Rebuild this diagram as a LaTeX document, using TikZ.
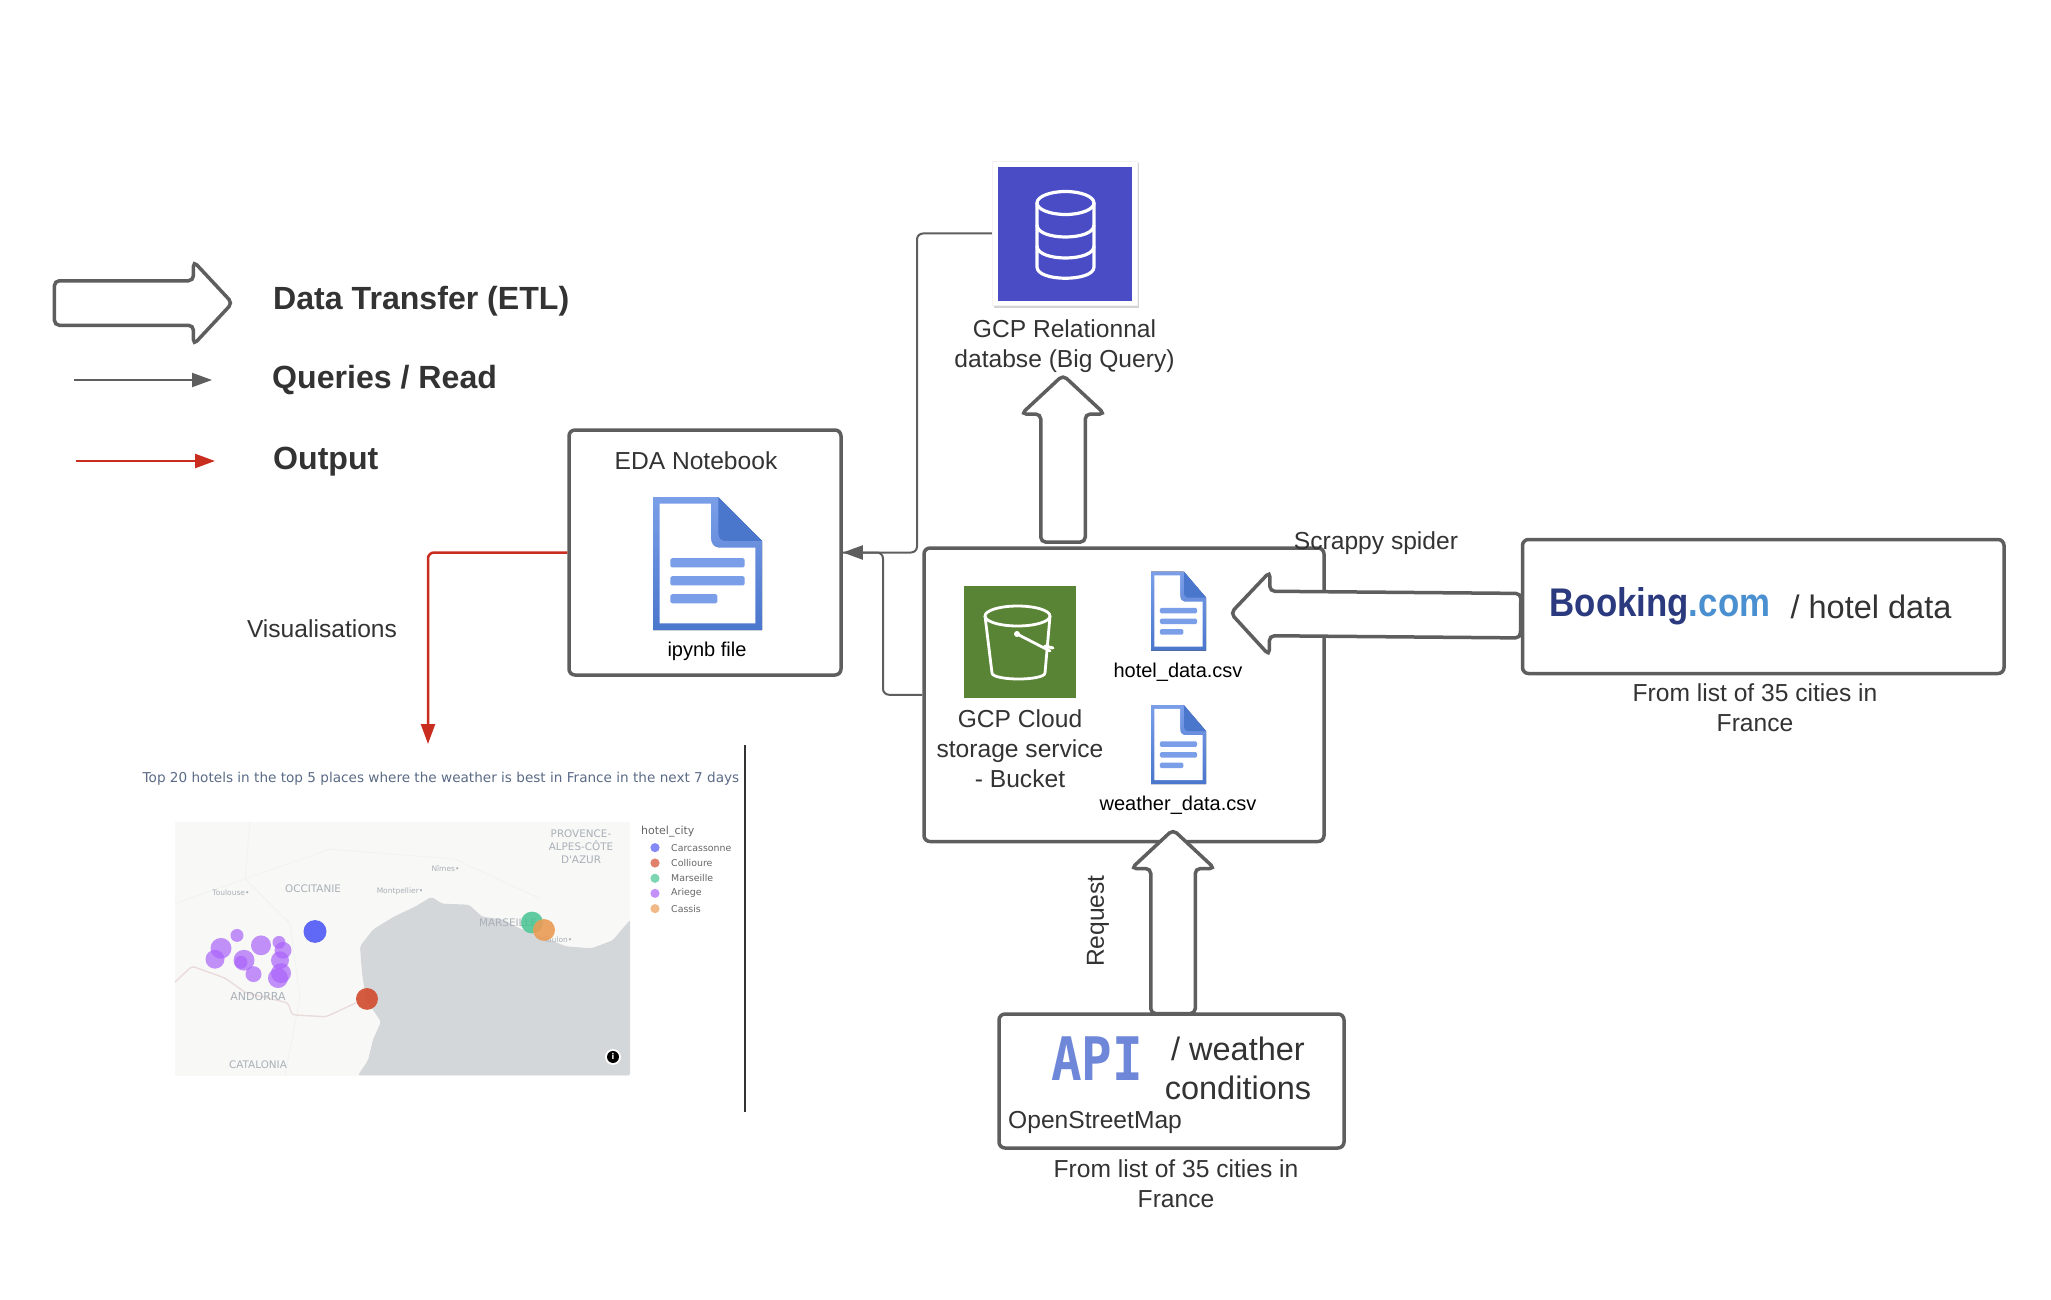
\documentclass[tikz,border=0pt]{standalone}
\usepackage{xcolor}
\usepackage{fontspec}
\setmainfont{Liberation Sans}
\newfontfamily\mapfont{DejaVu Sans}
\newfontfamily\apifont{DejaVu Sans Mono}
\usepackage{tikz}
\usetikzlibrary{shapes.arrows, arrows.meta, positioning, calc, shadows}

\definecolor{linegray}{HTML}{5E5E5E}
\definecolor{inkgray}{HTML}{333333}
\definecolor{outred}{HTML}{C92D1F}
\definecolor{dbblue}{HTML}{4A4CC5}
\definecolor{bucketgreen}{HTML}{5A8435}
\definecolor{foldblue}{HTML}{4A76CC}
\definecolor{baseblue}{HTML}{7B9EE8}
\definecolor{apiblue}{HTML}{6F87D8}
\definecolor{bookingnavy}{HTML}{2B3A7E}
\definecolor{bookingsky}{HTML}{4A90D0}
\definecolor{seagray}{HTML}{D4D7DA}
\definecolor{landgray}{HTML}{F8F8F6}
\definecolor{maptext}{HTML}{A9B0B8}
\definecolor{titleslate}{HTML}{5A6A85}
\definecolor{citypurple}{HTML}{AB63FA}
\definecolor{cityblue}{HTML}{505AF5}
\definecolor{cityred}{HTML}{D24B2D}
\definecolor{citygreen}{HTML}{46C391}
\definecolor{cityorange}{HTML}{EB9B55}
\definecolor{borderpink}{HTML}{EBDCDC}

\newcommand{\sz}[1]{\fontsize{#1}{#1}\selectfont}

\tikzset{
    docfile/.pic={
        \fill[top color=baseblue, bottom color=foldblue] (0,0) -- (59,0) -- (100,33) -- (100,100) -- (0,100) -- cycle;
        \fill[white] (6,5) -- (53,5) -- (53,30) .. controls (53,35) and (56,38) .. (60,38) -- (94,38) -- (94,95) -- (6,95) -- cycle;
        \fill[foldblue] (60,0) -- (100,33) -- (66,33) .. controls (62,33) and (60,30) .. (60,27) -- cycle;
        \fill[baseblue, rounded corners=1.5pt] (16,46) rectangle (84,53);
        \fill[baseblue, rounded corners=1.5pt] (16,59.5) rectangle (84,66.5);
        \fill[baseblue, rounded corners=1.5pt] (16,73) rectangle (59,80);
    }
}

\begin{document}
\begin{tikzpicture}[
    x=1pt, y=-1pt,
    box/.style={draw=linegray, line width=3.5pt, rounded corners=6pt, fill=white, inner sep=0pt},
    bigarrow/.style={draw=linegray, line width=3.5pt, fill=white, rounded corners=5pt, single arrow, single arrow tip angle=94, inner sep=0pt, text height=41pt, text depth=0pt, single arrow head extend=19.5pt},
    readline/.style={draw=linegray, line width=2pt, rounded corners=6pt},
    outline/.style={draw=outred, line width=2.5pt, rounded corners=6pt},
    readtip/.style={-{Triangle[length=20pt,width=14pt]}},
    lbl/.style={text=inkgray, align=center, inner sep=0pt, font=\sz{24.6}, execute at begin node={\baselineskip=30pt}},
    legendlbl/.style={text=inkgray, anchor=west, inner sep=0pt, font=\sz{32.1}\bfseries},
    csvlbl/.style={text=black, inner sep=0pt, font=\sz{20}},
    maplbl/.style={text=maptext, inner sep=0pt, align=center, font=\mapfont\sz{10.4}, execute at begin node={\baselineskip=13pt}},
    citylbl/.style={text=inkgray!75, anchor=west, inner sep=0pt, font=\mapfont\sz{9.4}},
    hotel/.style={fill=#1, fill opacity=0.7, draw=none},
    legenddot/.style={fill=#1, fill opacity=0.7, draw=none}
]
    \useasboundingbox (0,0) rectangle (2051,1300);

    % legend
    \node[bigarrow, minimum height=178pt] (etlkey) at (133,303) {};
    \node[legendlbl] (etlkeytxt) at (273,301.5) {Data Transfer (ETL)};
    \coordinate (readstart) at (74,380);
    \coordinate (readend) at (212,380);
    \draw[readline, readtip] (readstart) -- (readend);
    \node[legendlbl] (readkeytxt) at (272,380.5) {Queries / Read};
    \coordinate (outstart) at (76,461);
    \coordinate (outend) at (215,461);
    \draw[outline, -{Triangle[length=20pt,width=14pt]}, outred] (outstart) -- (outend);
    \node[legendlbl] (outkeytxt) at (273,461.5) {Output};

    % notebook
    \node[box, minimum width=272pt, minimum height=245pt] (edabox) at (705,552.5) {};
    \node[lbl] (edatxt) at (696,461) {EDA Notebook};
    \pic[xscale=1.09, yscale=1.33] at (653,497) {docfile};
    \node[csvlbl] (ipynbtxt) at (707,651) {ipynb file};

    % bucket
    \node[box, minimum width=400pt, minimum height=293.5pt] (bucketbox) at (1124,694.75) {};
    \node[fill=bucketgreen, minimum width=112pt, minimum height=112pt, inner sep=0pt] (bucketicon) at (1020,642) {};
    \draw[white, line width=2.8pt] (985,616) -- (992,673) .. controls (993,681) and (1044,681) .. (1045,673) -- (1050,616);
    \draw[white, line width=2.8pt] (1017.5,616) ellipse [x radius=32.5, y radius=10];
    \draw[white, line width=2.8pt, line cap=round] (1017,634) -- (1050,651);
    \fill[white] (1017,634) circle (3);
    \draw[white, line width=3pt, line cap=round] (1045,646) -- (1053,648);
    \node[lbl] (buckettxt) at (1020,749) {GCP Cloud\\storage service\\- Bucket};
    \pic[xscale=0.55, yscale=0.79] at (1151,571.5) {docfile};
    \pic[xscale=0.55, yscale=0.79] at (1151,705) {docfile};
    \node[csvlbl] (hoteltxt) at (1178,672) {hotel\_data.csv};
    \node[csvlbl] (weathertxt) at (1178,805) {weather\_data.csv};

    % database
    \node[fill=white, draw=black!5, line width=0.5pt, drop shadow={opacity=0.35, shadow xshift=1.5pt, shadow yshift=-2pt}, minimum width=145pt, minimum height=144pt, inner sep=0pt] (dbicon) at (1064.5,233.5) {};
    \fill[dbblue] (998,167) rectangle (1132,301);
    \draw[white, line width=3.2pt] (1065.5,203) ellipse [x radius=28.5, y radius=11.5];
    \draw[white, line width=3.2pt] (1037,203) -- (1037,267) .. controls (1037,282) and (1094,282) .. (1094,267) -- (1094,203);
    \draw[white, line width=3.2pt] (1037,225) .. controls (1037,241) and (1094,241) .. (1094,225);
    \draw[white, line width=3.2pt] (1037,246) .. controls (1037,262) and (1094,262) .. (1094,246);
    \node[lbl] (dbtxt) at (1064.5,346) {GCP Relationnal\\databse (Big Query)};

    % sources
    \node[box, minimum width=481.5pt, minimum height=134pt] (bookingbox) at (1763.25,606.5) {};
    \node[inner sep=0pt, font=\sz{40}\bfseries, xscale=0.87] (bookinglogo) at (1660,606) {\textcolor{bookingnavy}{Booking}\textcolor{bookingsky}{.com}};
    \node[text=inkgray, inner sep=0pt, font=\sz{32.5}] (hoteldatatxt) at (1871,607) {/ hotel data};
    \node[lbl] (bookingnote) at (1755,708) {From list of 35 cities in\\France};
    \node[box, minimum width=345pt, minimum height=134pt] (apibox) at (1171.5,1081) {};
    \node[text=apiblue, inner sep=0pt, font=\apifont\sz{48}\bfseries, xscale=1.06, yscale=1.25] (apilogo) at (1097,1059) {API};
    \node[text=inkgray, inner sep=0pt, align=center, font=\sz{32.5}, execute at begin node={\baselineskip=39pt}] (apitxt) at (1238,1068) {/ weather\\conditions};
    \node[lbl, anchor=west] (osmtxt) at (1008,1122) {OpenStreetMap};
    \node[lbl] (apinote) at (1176,1184) {From list of 35 cities in\\France};

    % block arrows
    \node[bigarrow, minimum height=167pt, rotate=90] (loadarrow) at (1063,469) {};
    \node[bigarrow, minimum height=184pt, rotate=90] (requestarrow) at (1173,932) {};
    \node[bigarrow, minimum height=290pt, rotate=179.5] (scrapearrow) at (1386,614.5) {};
    \node[lbl] (scrapetxt) at (1376,543) {Scrappy spider};
    \node[lbl, rotate=90] (requesttxt) at (1098,921) {Request};

    % queries and output
    \coordinate (dbturn) at (917,400);
    \coordinate (bucketturn) at (883,620);
    \draw[readline] (bucketbox.west) -| (bucketturn) |- (edabox.east);
    \draw[readline, readtip] (dbicon.west) -| (dbturn) |- (edabox.east);
    \coordinate (vistip) at (428,744);
    \draw[outline, -{Triangle[length=20pt,width=14pt]}, outred] (edabox.west) -| (vistip);
    \node[lbl] (vistxt) at (322,629) {Visualisations};

    % plot
    \node[text=titleslate, inner sep=0pt, font=\mapfont\sz{13.6}] (plottitle) at (441,779) {Top 20 hotels in the top 5 places where the weather is best in France in the next 7 days};
    \node[fill=landgray, minimum width=455pt, minimum height=254pt, inner sep=0pt] (maptile) at (402.5,949) {};
    \begin{scope}[shift={(0,740)}, yscale=0.992, shift={(0,-740)}]
    \fill[seagray, rounded corners=2pt] (358,1078) -- (368,1063) -- (373,1042) -- (381,1024) -- (373,1012) -- (366,1002) -- (362,975) -- (360,948) -- (373,931) -- (394,918) -- (415,908) -- (431.5,898) -- (442,905) -- (469,906) -- (482,918) -- (503,921) -- (520,930) -- (541,938) -- (566,948) -- (591.5,950) -- (612.6,942) -- (630,921.4) -- (630,1078) -- cycle;
    \draw[black!5, line width=0.8pt, rounded corners=3pt] (250,822) -- (245,880) -- (290,925) -- (300,1000) -- (285,1078);
    \draw[black!5, line width=0.8pt, rounded corners=3pt] (175,905) -- (245,880) -- (330,850) -- (455,860) -- (540,900);
    \draw[borderpink, line width=1.4pt, rounded corners=3pt] (175,984) -- (192,968) -- (225,980) -- (246,995) -- (288,1005) -- (292,1017) -- (326,1019) -- (356,1005);
    \node[maplbl] at (581,848) {PROVENCE-\\ALPES-CÔTE\\D'AZUR};
    \node[maplbl] at (313,889.5) {OCCITANIE};
    \node[maplbl, font=\mapfont\sz{7.5}] at (231,893.5) {Toulouse•};
    \node[maplbl, font=\mapfont\sz{7.5}] at (400,893) {Montpellier•};
    \node[maplbl, font=\mapfont\sz{7.5}] at (445.5,870) {Nîmes•};
    \node[maplbl] at (508,924) {MARSEILLE};
    \node[maplbl, font=\mapfont\sz{7.5}] at (558,941.6) {Toulon•};
    \node[maplbl, font=\mapfont\sz{11}] at (258,999) {ANDORRA};
    \node[maplbl] at (258,1067) {CATALONIA};
    \foreach \px/\py/\pr in {237/937/6.5, 221/950/10.5, 215/961/9.5, 244/962/10.5, 241/964/6.5, 253.5/976/8, 261/947/10, 279/944/6.5, 283/952/8.5, 280/962/9, 281/975/10, 278/980/10}
        \fill[hotel=citypurple] (\px,\py) circle (\pr);
    \fill[hotel=cityblue, fill opacity=0.9] (315,933) circle (11.5);
    \fill[hotel=cityred, fill opacity=0.9] (367,1001) circle (11);
    \fill[hotel=citygreen, fill opacity=0.85] (532,924) circle (11);
    \fill[hotel=cityorange, fill opacity=0.9] (544,931.5) circle (11);
    \fill[white] (613,1059.5) circle (8);
    \node[circle, fill=black, text=white, inner sep=0pt, minimum size=12pt, font=\mapfont\sz{8}\bfseries] (infoicon) at (613,1059.5) {i};
    \node[citylbl, font=\mapfont\sz{11}] (citykey) at (641,832) {hotel\_city};
    \foreach \ky/\kc/\kt in {848.5/cityblue/Carcassonne, 864/cityred/Collioure, 879.4/citygreen/Marseille, 894.6/citypurple/Ariege, 910/cityorange/Cassis} {
        \fill[legenddot=\kc] (655,\ky) circle (4.6);
        \node[citylbl] at (671,\ky) {\kt};
    }
    \end{scope}
    \coordinate (rulestart) at (745,745);
    \coordinate (ruleend) at (745,1112);
    \draw[inkgray, line width=1.6pt] (rulestart) -- (ruleend);
\end{tikzpicture}
\end{document}
